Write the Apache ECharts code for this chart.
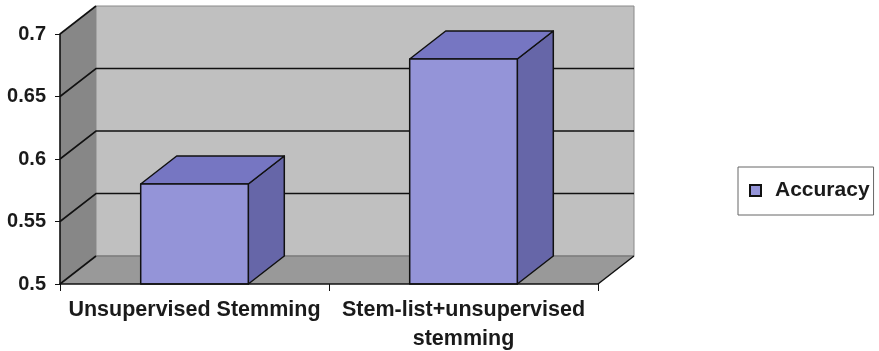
<!DOCTYPE html>
<html>
<head>
<meta charset="utf-8">
<script src="https://cdn.jsdelivr.net/npm/echarts@6/dist/echarts.min.js"></script>
<style>
  html, body { margin: 0; padding: 0; background: #fff; }
  #chart { width: 879px; height: 351px; }
</style>
</head>
<body>
<div id="chart"></div>
<script>
// Categories and accuracy values
const categories = ['Unsupervised Stemming', 'Stem-list+unsupervised\nstemming'];
const accuracy = [0.58, 0.68];
const seriesName = 'Accuracy';
const yMin = 0.5, yMax = 0.7, yStep = 0.05;
const gridValues = [0.5, 0.55, 0.6, 0.65, 0.7];

// 3D depth offset of the back wall (pixels)
const DX = 36, DY = -28;
const FONT = 'Liberation Sans, Arial, sans-serif';

const chart = echarts.init(document.getElementById('chart'), null, { renderer: 'canvas' });

// Walls, floor and gridlines of the 3D box
function renderWalls(params, api) {
  const cs = params.coordSys;
  const x0 = cs.x, x1 = cs.x + cs.width;
  const yTop = cs.y, yBot = cs.y + cs.height;
  const children = [
    { type: 'rect', shape: { x: x0 + DX, y: yTop + DY, width: cs.width, height: cs.height },
      style: { fill: '#c0c0c0', stroke: '#8a8a8a', lineWidth: 1 } },
    { type: 'polygon', shape: { points: [[x0, yTop], [x0 + DX, yTop + DY], [x0 + DX, yBot + DY], [x0, yBot]] },
      style: { fill: '#878787' } },
    { type: 'polygon', shape: { points: [[x0, yBot], [x0 + DX, yBot + DY], [x1 + DX, yBot + DY], [x1, yBot]] },
      style: { fill: '#999999' } },
    { type: 'line', shape: { x1: x0 + DX, y1: yBot + DY, x2: x1 + DX, y2: yBot + DY },
      style: { stroke: '#6e6e6e', lineWidth: 1.2 } },
    { type: 'line', shape: { x1: x1, y1: yBot, x2: x1 + DX, y2: yBot + DY },
      style: { stroke: '#111', lineWidth: 1.5 } }
  ];
  gridValues.forEach(function (v) {
    const y = api.coord([0, v])[1];
    const pts = (v === yMin || v === yMax)
      ? [[x0, y], [x0 + DX, y + DY]]
      : [[x0, y], [x0 + DX, y + DY], [x1 + DX, y + DY]];
    children.push({ type: 'polyline', shape: { points: pts },
      style: { stroke: '#111', lineWidth: 1.6, fill: null } });
  });
  return { type: 'group', children: children };
}

// Box-shaped bar: front face, top and right side
function renderBar(params, api) {
  const top = api.coord([api.value(0), api.value(1)]);
  const base = api.coord([api.value(0), yMin]);
  const w = api.size([1, 0])[0] * 0.4;
  const x = top[0] - w / 2, yt = top[1], yb = base[1];
  const edge = { stroke: '#111', lineWidth: 1.5, lineJoin: 'round' };
  return {
    type: 'group',
    children: [
      { type: 'polygon', shape: { points: [[x + w, yt], [x + w + DX, yt + DY], [x + w + DX, yb + DY], [x + w, yb]] },
        style: Object.assign({ fill: '#6666a8' }, edge) },
      { type: 'polygon', shape: { points: [[x, yt], [x + DX, yt + DY], [x + w + DX, yt + DY], [x + w, yt]] },
        style: Object.assign({ fill: '#7676c2' }, edge) },
      { type: 'rect', shape: { x: x, y: yt, width: w, height: yb - yt },
        style: Object.assign({ fill: '#9494d8' }, edge) }
    ]
  };
}

chart.setOption({
  animation: false,
  backgroundColor: '#ffffff',
  grid: { left: 60, right: 281, top: 34, bottom: 67, containLabel: false, outerBoundsMode: 'none' },
  legend: {
    left: 738, top: 167,
    orient: 'vertical',
    padding: [13, 4, 14, 11],
    backgroundColor: '#fff',
    borderColor: '#666', borderWidth: 1, borderRadius: 0,
    itemWidth: 11, itemHeight: 11,
    data: [{ name: seriesName, icon: 'rect',
      itemStyle: { color: '#9494d8', borderColor: '#111', borderWidth: 2 } }],
    textStyle: { fontFamily: FONT, fontSize: 21, fontWeight: 'bold', color: '#1a1a1a', padding: [0, 0, 0, 9] }
  },
  xAxis: {
    type: 'category',
    data: categories,
    boundaryGap: true,
    z: 5,
    axisLine: { lineStyle: { color: '#111', width: 1.6 } },
    axisTick: { show: true, interval: 0, length: 7, lineStyle: { color: '#111', width: 1 } },
    axisLabel: { interval: 0, margin: 12, fontFamily: FONT, fontSize: 21.5, fontWeight: 'bold', color: '#1a1a1a', lineHeight: 29 },
    splitLine: { show: false }
  },
  yAxis: {
    type: 'value',
    min: yMin, max: yMax, interval: yStep,
    z: 5,
    axisLine: { show: true, lineStyle: { color: '#111', width: 1.6 } },
    axisTick: { show: true, length: 5, lineStyle: { color: '#111', width: 1 } },
    axisLabel: { margin: 14, fontFamily: FONT, fontSize: 20, fontWeight: 'bold', color: '#1a1a1a' },
    splitLine: { show: false }
  },
  series: [
    {
      type: 'custom',
      name: 'walls',
      z: 1,
      silent: true,
      clip: false,
      renderItem: renderWalls,
      data: [[0, yMin]]
    },
    {
      type: 'custom',
      name: seriesName,
      z: 2,
      clip: false,
      itemStyle: { color: '#9494d8' },
      renderItem: renderBar,
      encode: { x: 0, y: 1 },
      data: accuracy.map(function (v, i) { return [i, v]; })
    }
  ]
});
</script>
</body>
</html>
